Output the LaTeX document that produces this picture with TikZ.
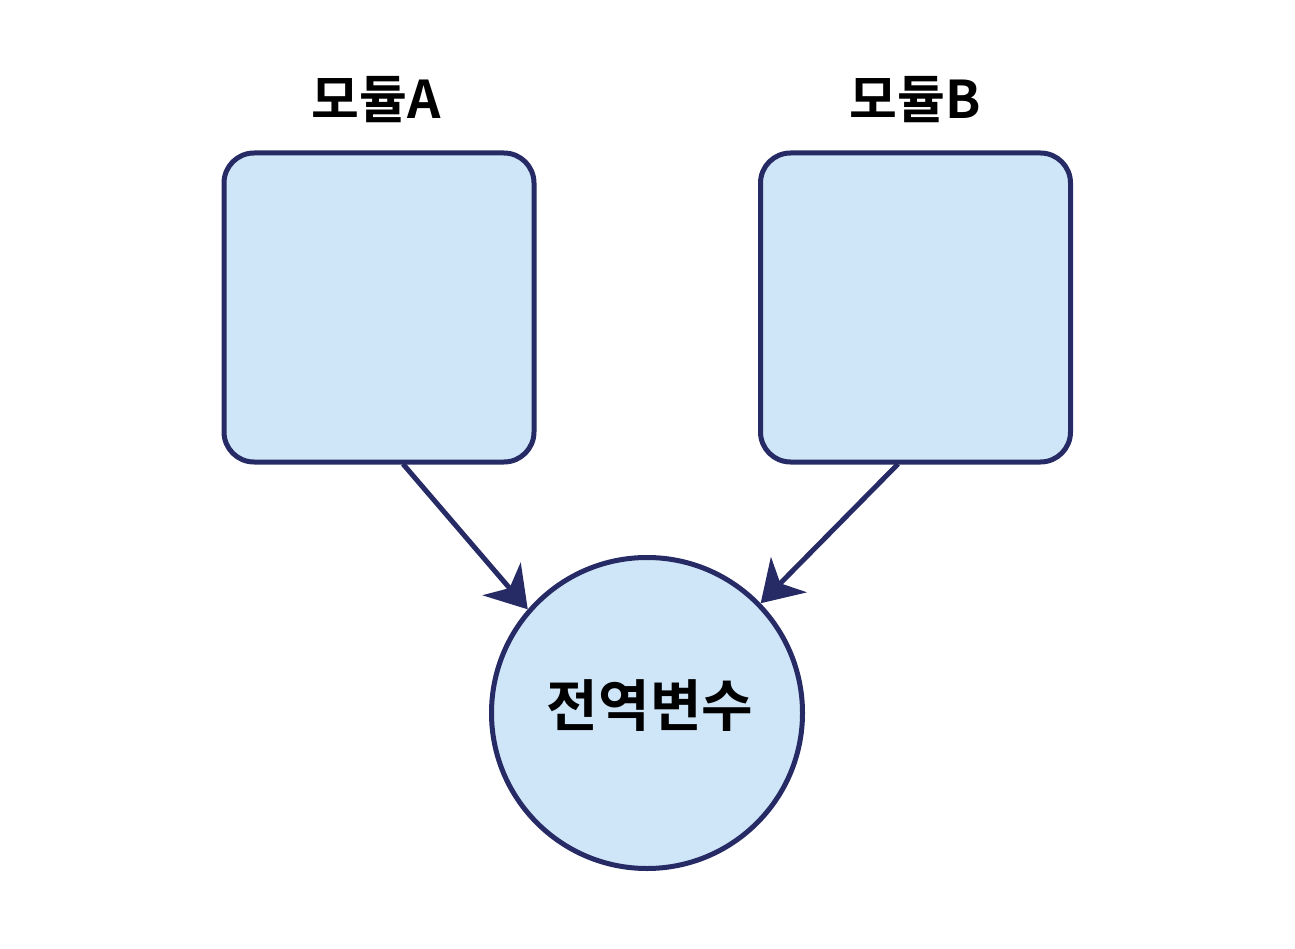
\documentclass[tikz,border=0pt]{standalone}
\usepackage{fontspec}
\newfontfamily\kr{Noto Sans CJK KR}[BoldFont={* Bold}]
\usetikzlibrary{arrows.meta}
\definecolor{edge}{HTML}{272B65}
\definecolor{boxfill}{HTML}{CFE5F8}
\begin{document}
\begin{tikzpicture}[x=1pt,y=-1pt,
  box/.style={draw=edge,fill=boxfill,line width=5pt,rounded corners=30pt,minimum width=310pt,minimum height=309pt,inner sep=0pt},
  lbl/.style={font=\kr\bfseries\fontsize{52}{52}\selectfont,text=black,inner sep=0pt},
  conn/.style={draw=edge,line width=5pt,-{Stealth[length=40pt,width=50pt,inset=12pt]}}]
\useasboundingbox (0,0) rectangle (1295,949);
\node[box] (a) at (379,307.5) {};
\node[box] (b) at (915.5,307.5) {};
\node[circle,draw=edge,fill=boxfill,line width=5pt,minimum size=311pt,inner sep=0pt] (g) at (647,713) {};
\node[lbl] (la) at (376,100) {모듈A};
\node[lbl] (lb) at (915,100) {모듈B};
\node[lbl,font=\kr\bfseries\fontsize{56}{56}\selectfont] (lg) at (650,706) {전역변수};
\coordinate (as) at (403,464);
\coordinate (bs) at (898,464);
\draw[conn] (as) -- (g.139);
\draw[conn] (bs) -- (g.44);
\end{tikzpicture}
\end{document}
